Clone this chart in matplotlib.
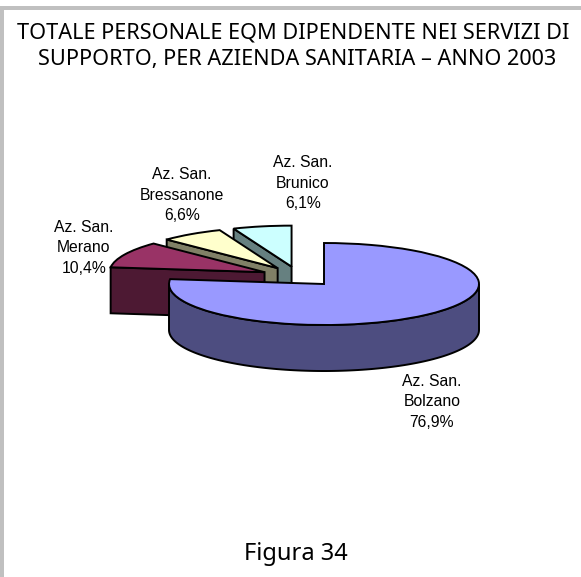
#!/usr/bin/env python3
"""Exploded pseudo-3D pie: personale EQM nei servizi di supporto, 2003."""

import numpy as np
import matplotlib
matplotlib.use("Agg")
import matplotlib.pyplot as plt
from matplotlib.patches import Polygon, Rectangle

W, H = 581, 577

names = ["Az. San.\nBolzano", "Az. San.\nMerano", "Az. San.\nBressanone", "Az. San.\nBrunico"]
shares = [76.9, 10.4, 6.6, 6.1]
share_labels = ["76,9%", "10,4%", "6,6%", "6,1%"]

top_colors = ["#9999FF", "#993366", "#FFFFCC", "#CCFFFF"]
side_colors = ["#4D4D80", "#4D1933", "#808066", "#668080"]

CX, CY = 298.8, 276.5  # pie centre in pixels
RX, RY = 155.0, 41.0  # pixels per data unit
DEPTH = 46.0 / RY


def px(x, y):
    return x / W, 1 - y / H


fig = plt.figure(figsize=(W / 100, H / 100), dpi=100, facecolor="white")
ax = fig.add_axes([0, 0, 1, 1])
wedges, _ = ax.pie(shares, explode=[0.245] * 4, startangle=90, counterclock=False,
                   colors=top_colors, radius=1,
                   wedgeprops={"edgecolor": "black", "linewidth": 1.4, "joinstyle": "miter"})
ax.set_aspect("auto")
ax.set_xlim(-CX / RX, (W - CX) / RX)
ax.set_ylim((CY - H) / RY, CY / RY)
ax.set_axis_off()


def extrude(points):
    points = np.asarray(points)
    lower = points[::-1] - [0, DEPTH]
    return np.vstack([points, lower])


# back slices first, the big one goes on top of everything
order = [3, 2, 1, 0]
for z, index in enumerate(order):
    wedge = wedges[index]
    wedge.set_zorder(10 + 2 * z + 1)
    centre = np.array(wedge.center)
    face = side_colors[index]
    style = {"facecolor": face, "edgecolor": "black", "linewidth": 1.4,
             "joinstyle": "miter", "zorder": 10 + 2 * z}
    # cut face on the clockwise-most edge, seen for the three small slices
    if index != 0:
        angle = np.radians(wedge.theta2)
        outer = centre + [np.cos(angle), np.sin(angle)]
        ax.add_patch(Polygon(extrude([centre, outer]), closed=True, **style))
    else:
        angles = np.radians(np.linspace(180, 360, 120))
        rim = np.column_stack([centre[0] + np.cos(angles), centre[1] + np.sin(angles)])
        ax.add_patch(Polygon(extrude(rim), closed=True, **style))

frame = "#C0C0C0"
for rect in [(0, 6, W, 4), (0, 6, 4, H - 6)]:
    fig.add_artist(Rectangle(px(rect[0], rect[1] + rect[3]), rect[2] / W, rect[3] / H,
                             transform=fig.transFigure, facecolor=frame, edgecolor="none"))

title_font = {"family": "Noto Sans", "color": "black", "ha": "center", "va": "center"}
fig.text(*px(293.5, 33), "TOTALE PERSONALE EQM DIPENDENTE NEI SERVIZI DI", fontsize=15.6, **title_font)
fig.text(*px(297, 59.5), "SUPPORTO, PER AZIENDA SANITARIA \u2013 ANNO 2003", fontsize=15.6, **title_font)
fig.text(*px(296, 554), "Figura 34", fontsize=17, **title_font)

label_at = [(432, 402), (84, 248), (182, 195), (303, 183)]
for (x, y), name, share in zip(label_at, names, share_labels):
    fig.text(*px(x, y), f"{name}\n{share}", family="Liberation Sans", fontsize=11.3,
             ha="center", va="center", multialignment="center", linespacing=1.46, color="black")

fig.savefig("out.png", dpi=100)
plt.close(fig)
